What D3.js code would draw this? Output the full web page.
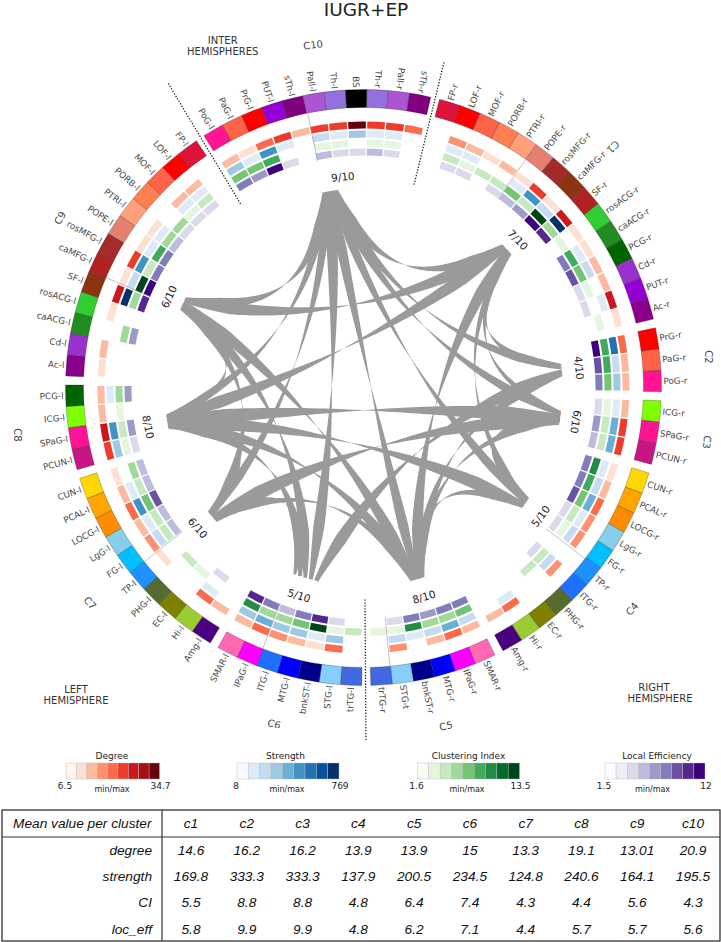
<!DOCTYPE html>
<html><head><meta charset="utf-8">
<script src="https://cdn.jsdelivr.net/npm/d3@7/dist/d3.min.js"></script>
<style>html,body{margin:0;padding:0;background:#fff}svg{display:block}text{font-family:"DejaVu Sans",sans-serif}</style>
</head><body><svg id="c" width="721" height="942"></svg>
<script>
const _ = null;
const clusterNames = ["C1","C2","C3","C4","C5","C6","C7","C8","C9","C10"];
const nodeLabels = [
 ["FP-r","LOF-r","MOF-r","PORB-r","PTRI-r","POPE-r","rosMFG-r","caMFG-r","SF-r","rosACG-r","caACG-r","PCG-r","Cd-r","PUT-r","Ac-r"],
 ["PrG-r","PaG-r","PoG-r"],
 ["ICG-r","SPaG-r","PCUN-r"],
 ["CUN-r","PCAL-r","LOCG-r","LgG-r","FG-r","TP-r","ITG-r","PHG-r","EC-r","Hi-r","Amg-r"],
 ["SMAR-r","IPaG-r","MTG-r","bnkST-r","STG-t","trTG-r"],
 ["trTG-l","STG-l","bnkST-l","MTG-l","ITG-l","IPaG-l","SMAR-l"],
 ["Amg-l","Hi-l","EC-l","PHG-l","TP-l","FG-l","LgG-l","LOCG-l","PCAL-l","CUN-l"],
 ["PCUN-l","SPaG-l","ICG-l","PCG-l"],
 ["Ac-l","Cd-l","caACG-l","rosACG-l","SF-l","caMFG-l","rosMFG-l","POPE-l","PTRI-l","PORB-l","MOF-l","LOF-l","FP-l"],
 ["PoG-l","PaG-l","PrG-l","PUT-l","sTh-l","Pall-l","Th-l","BS","Th-r","Pall-r","sTh-r"]
];
const nodeColors = [
 ["#dc143c","#ff0000","#ff6347","#ff7f50","#ffa07a","#e57f6f","#a52a2a","#8b3410","#b22222","#32cd32","#228b22","#006400","#9932cc","#9400d3","#8b008b"],
 ["#ff0000","#ff6347","#ff1493"],
 ["#7fff00","#ff1493","#c71585"],
 ["#ffd700","#ffa500","#ff8c00","#87ceeb","#00bfff","#1e90ff","#2070ff","#556b2f","#808000","#9acd32","#4b0082"],
 ["#ff69b4","#ff00ff","#0000ff","#00008b","#87cefa","#4169e1"],
 ["#4169e1","#87cefa","#00008b","#0000ff","#2070ff","#ff00ff","#ff69b4"],
 ["#4b0082","#9acd32","#808000","#556b2f","#1e90ff","#00bfff","#87ceeb","#ff8c00","#ffa500","#ffd700"],
 ["#c71585","#ff1493","#7fff00","#006400"],
 ["#8b008b","#9932cc","#228b22","#32cd32","#8b3410","#b22222","#a52a2a","#e57f6f","#ffa07a","#ff7f50","#ff6347","#ff0000","#dc143c"],
 ["#ff1493","#ff6347","#ff0000","#9400d3","#800080","#ab55d3","#9370db","#000000","#9370db","#ab55d3","#800080"]
];
const degree = [
 [_,17,14,11,14,11,24,11,27,11,11,14,14,27,11],[21,14,14],[14,24,24],
 [11,14,21,17,17,_,17,_,_,21,14],[14,21,14,_,17,_],[_,21,11,14,17,21,14],
 [14,21,_,_,11,17,14,21,14,11],[24,27,14,14],[11,14,_,11,27,11,24,11,11,_,14,14,_],
 [14,11,21,24,14,24,24,33,24,24,21]];
const strength = [
 [_,135,135,_,_,135,470,220,725,_,135,220,_,135,_],[555,220,305],[135,390,390],
 [135,220,390,135,220,_,220,_,_,135,_],[220,390,220,135,220,_],[_,305,135,305,305,390,305],
 [_,135,_,_,_,220,135,470,135,_],[305,470,_,135],[_,_,_,_,725,220,470,135,135,_,135,135,_],
 [305,135,470,135,_,220,135,305,135,135,_]];
const clustering = [
 [_,4.9,3.6,4.9,4.9,7.6,4.9,12.8,6.2,3.6,8.9,7.6,3.6,_,3.6],[8.9,8.9,7.6],[3.6,4.9,4.9],
 [10.2,8.9,7.6,4.9,3.6,_,4.9,4.9,_,_,_],[7.6,6.2,6.2,10.2,3.6,3.6],[4.9,3.6,12.8,7.6,6.2,6.2,10.2],
 [_,_,3.6,4.9,_,4.9,4.9,7.6,4.9,6.2],[3.6,4.9,3.6,6.2],[_,_,6.2,_,6.2,12.8,4.9,8.9,6.2,6.2,3.6,4.9,_],
 [7.6,7.6,8.9,_,_,3.6,3.6,_,3.6,3.6,_]];
const localEff = [
 [_,4.4,4.4,_,4.4,5.6,6.8,11.4,10.3,_,7.9,9.1,4.4,4.4,_],[11.4,9.1,7.9],[4.4,6.8,5.6],
 [7.9,7.9,9.1,4.4,4.4,_,4.4,_,_,_,_],[7.9,7.9,6.8,7.9,4.4,_],[_,4.4,10.3,7.9,5.6,7.9,10.3],
 [_,4.4,_,_,_,5.6,5.6,9.1,5.6,5.6],[4.4,6.8,_,6.8],[_,_,6.8,_,10.3,11.4,7.9,7.9,5.6,4.4,4.4,4.4,_],
 [7.9,6.8,11.4,4.4,_,5.6,4.4,4.4,5.6,4.4,_]];
const metricNames = ["Degree","Strength","Clustering Index","Local Efficiency"];
const metricMin = [6.5,8,1.6,1.5];
const metricMax = [34.7,769,13.5,12];
const metricTickMax = ["34.7","769","13.5","12"];
const metricColors = [
 ["#fff5f0","#fee0d2","#fcbba1","#fc9272","#fb6a4a","#ef3b2c","#cb181d","#a50f15","#67000d"],
 ["#f7fbff","#deebf7","#c6dbef","#9ecae1","#6baed6","#4292c6","#2171b5","#08519c","#08306b"],
 ["#f7fcf5","#e5f5e0","#c7e9c0","#a1d99b","#74c476","#41ab5d","#238b45","#006d2c","#00441b"],
 ["#fcfbfd","#efedf5","#dadaeb","#bcbddc","#9e9ac8","#807dba","#6a51a3","#54278f","#3f007d"]];

const sectorNames = ["A","B","C","D","E","F","G","H","I","J"];
const sectorLabels = ["9/10","7/10","4/10","6/10","5/10","8/10","5/10","6/10","8/10","6/10"];
const sectorAngles = [-9.6,46.1,84.9,98.8,125.5,164.3,-163,-130.5,-99.9,-65.1];
const sectorLabelAngles = [-5.6,46.3,84.8,99.2,126,163.9,-162.8,-130.3,-100.4,-65];
const sectorLabelRadii = [211.5,213.6,216.4,215,219,218,218,217.3,219,214.5];
const sectorSpans = [14.5,13.6,14,15,13,14.8,29,13.7,14.8,13.6];
const links = [
 ["A","J",11],["A","B",10],["A","C",8.5],["A","D",9.5],["A","E",9.5],["A","F",11],["A","G",12],["A","H",8.5],["A","I",8.5],
 ["B","J",13],["B","I",13],["B","C",7.5],["B","D",6],["B","E",6],["B","F",12],
 ["C","G",13],["C","F",9.5],
 ["D","I",15],["D","H",15],["D","F",7.5],["D","E",7.5],
 ["E","I",14],["E","F",7.5],
 ["F","J",12],["F","I",12],["F","H",7],
 ["G","I",11],["G","H",8.5],["G","J",11],
 ["H","I",8.5],["H","J",8.5],["I","J",8.5]];
const tableHeader = ["Mean value per cluster","c1","c2","c3","c4","c5","c6","c7","c8","c9","c10"];
const tableRows = [
 ["degree","14.6","16.2","16.2","13.9","13.9","15","13.3","19.1","13.01","20.9"],
 ["strength","169.8","333.3","333.3","137.9","200.5","234.5","124.8","240.6","164.1","195.5"],
 ["CI","5.5","8.8","8.8","4.8","6.4","7.4","4.3","4.4","5.6","4.3"],
 ["loc_eff","5.8","9.9","9.9","4.8","6.2","7.1","4.4","5.7","5.7","5.6"]];

const svg = d3.select("#c");
const cx = 363.5, cy = 387.5;
const rad = d => d*Math.PI/180;
const polar = (a,r) => [cx + r*Math.sin(rad(a)), cy - r*Math.cos(rad(a))];
const root = svg.append("g").attr("transform",`translate(${cx},${cy})`);

/* ring layout */
const nodeStep = 4.13, clusterGap = 1.72, startAngle = 14.78;
const nodes = []; let cursor = startAngle;
nodeLabels.forEach((lab,c)=>{
  lab.forEach((name,i)=>{
    nodes.push({name,c,i,a0:cursor,a1:cursor+nodeStep,color:nodeColors[c][i],
      vals:[degree[c][i],strength[c][i],clustering[c][i],localEff[c][i]]});
    cursor += nodeStep;
  });
  cursor += clusterGap;
});
const arc = d3.arc();
root.selectAll("path.node").data(nodes).join("path").attr("class","node")
  .attr("d",d=>arc({innerRadius:280,outerRadius:298,startAngle:rad(d.a0),endAngle:rad(d.a1)}))
  .attr("fill",d=>d.color).attr("stroke","#222").attr("stroke-opacity",.55).attr("stroke-width",.5);

/* heat rings */
const ringRadii = [[259,266],[250,257],[241,248],[232,239]];
metricNames.forEach((m,k)=>{
  const col = d3.scaleQuantize().domain([metricMin[k],metricMax[k]]).range(metricColors[k]);
  root.selectAll("path.m"+k).data(nodes.filter(d=>d.vals[k]!==null)).join("path")
    .attr("d",d=>arc({innerRadius:ringRadii[k][0],outerRadius:ringRadii[k][1],
       startAngle:rad(d.a0+.15),endAngle:rad(d.a1-.15)}))
    .attr("fill",d=>col(d.vals[k]));
});

/* node labels */
root.selectAll("text.nl").data(nodes).join("text").attr("class","nl")
  .attr("transform",d=>{
    const a=(d.a0+d.a1)/2, na=((a%360)+360)%360;
    const [x,y]=[300*Math.sin(rad(a)),-300*Math.cos(rad(a))];
    d.flip = na>180 || d.c===9;
    return `translate(${x},${y}) rotate(${d.flip? na+90 : na-90})`;
  })
  .attr("text-anchor",d=>d.flip?"end":"start")
  .attr("dy","0.35em").attr("font-size",8.8).attr("fill","#4a4a4a").text(d=>d.name);

/* thin dividers */
const dividerAngles = [-11.5,35.45,127.7,174.6,-158.9,-128.5,-66.9];
dividerAngles.forEach(a=>{
  const p=polar(a,231),q=polar(a,280);
  svg.append("line").attr("x1",p[0]).attr("y1",p[1]).attr("x2",q[0]).attr("y2",q[1])
    .attr("stroke","#999").attr("stroke-width",.6);
});

/* ribbons */
const sectorIdx = Object.fromEntries(sectorNames.map((s,i)=>[s,i]));
const edges = links.map(([s,t,w])=>({s:sectorIdx[s],t:sectorIdx[t],w}));
const partners = sectorNames.map((_n,i)=>{
  const list = edges.filter(e=>e.s===i||e.t===i).map(e=>e.s===i?e.t:e.s);
  return list.sort((p,q)=>((sectorAngles[p]-sectorAngles[i]+720)%360)-((sectorAngles[q]-sectorAngles[i]+720)%360));
});
function endPoint(i,j){
  const list=partners[i], k=list.indexOf(j), n=list.length, S=sectorSpans[i];
  const off=(S/2-0.5)*(1-2*(k+.5)/n);
  const a=sectorAngles[i]+off/199*180/Math.PI;
  return [199*Math.sin(rad(a)),-199*Math.cos(rad(a))];
}
const ribbonLine = d3.line();
const ts = d3.range(0,1.0001,1/80);
const ribbons = edges.map(e=>{
  const P0=endPoint(e.s,e.t), P2=endPoint(e.t,e.s);
  const C=[.45*(P0[0]+P2[0])/2,.45*(P0[1]+P2[1])/2];
  const up=[],dn=[];
  ts.forEach(t=>{
    const u=1-t;
    const x=u*u*P0[0]+2*u*t*C[0]+t*t*P2[0], y=u*u*P0[1]+2*u*t*C[1]+t*t*P2[1];
    let dx=2*u*(C[0]-P0[0])+2*t*(P2[0]-C[0]), dy=2*u*(C[1]-P0[1])+2*t*(P2[1]-C[1]);
    const L=Math.hypot(dx,dy)||1; dx/=L; dy/=L;
    const edge=Math.min(t,1-t);
    const ramp=Math.min(1,.3+.7*edge/.14);
    const h=e.w/2*Math.abs(Math.cos(Math.PI*t))*ramp+.12;
    up.push([x-dy*h,y+dx*h]); dn.push([x+dy*h,y-dx*h]);
  });
  return up.concat(dn.reverse());
});
root.selectAll("path.rib").data(ribbons).join("path").attr("class","rib")
  .attr("d",d=>ribbonLine(d)+"Z").attr("fill","#9a9a9a");

/* sector labels */
sectorLabels.forEach((t,i)=>{
  const a=sectorLabelAngles[i]; const [x,y]=polar(a,sectorLabelRadii[i]);
  const rot = (a>-90&&a<=100)? a : (a>100? a-180 : a+180);
  svg.append("text").attr("transform",`translate(${x},${y}) rotate(${rot})`)
    .attr("text-anchor","middle").attr("dy",".35em").attr("font-size",10.5).attr("fill","#222").text(t);
});

/* hemisphere dotted lines */
const dotted = [[-33.8,221,-32.7,363],[14,209,13.9,336],[179.6,212,179.6,354]];
dotted.forEach(([a1,r1,a2,r2])=>{
  const p=polar(a1,r1),q=polar(a2,r2);
  svg.append("line").attr("x1",p[0]).attr("y1",p[1]).attr("x2",q[0]).attr("y2",q[1])
    .attr("stroke","#111").attr("stroke-width",1.2).attr("stroke-dasharray","1.3 1.6");
});

/* cluster names */
const clusterPos = [[613,147,133],[708,357,90],[707,442,97],[632,609,-48],[446,726,-14],[274,724,15],[90,603,48],[17,435,90],[60,218,-60],[313,45,-8]];
clusterNames.forEach((n,i)=>{
  svg.append("text").attr("transform",`translate(${clusterPos[i][0]},${clusterPos[i][1]}) rotate(${clusterPos[i][2]})`)
   .attr("text-anchor","middle").attr("dy",".35em").attr("font-size",10).attr("fill","#444").text(n);
});
svg.append("rect").attr("x",262).attr("y",728).attr("width",26).attr("height",7).attr("fill","#fff");

/* hemisphere text */
const hemi=[["INTER",222.7,40],["HEMISPHERES",222.7,51],["LEFT",76,689],["HEMISPHERE",76,700],["RIGHT",654,687],["HEMISPHERE",660,698]];
hemi.forEach(([t,x,y])=>svg.append("text").attr("x",x).attr("y",y).attr("text-anchor","middle").attr("dy",".35em")
  .attr("font-size",10).attr("fill","#333").text(t));

/* title */
svg.append("text").attr("x",366).attr("y",16).attr("text-anchor","middle").attr("font-size",18.5).attr("fill","#222").text("IUGR+EP");

/* legends */
const legendX=[[66,159.5],[237,339],[417.5,519.5],[605,705]];
const legendT=[112,285.4,468.5,657];
const legendM=[112,287,467,652.5];
metricNames.forEach((m,k)=>{
  const [x0,x1]=legendX[k];
  const sx=d3.scaleBand().domain(d3.range(9)).range([x0,x1]);
  svg.append("g").selectAll("rect").data(metricColors[k]).join("rect")
    .attr("x",(d,i)=>sx(i)).attr("y",763).attr("width",sx.bandwidth()).attr("height",16)
    .attr("fill",d=>d).attr("stroke","#bbb").attr("stroke-width",.4);
  svg.append("text").attr("x",legendT[k]).attr("y",756).attr("text-anchor","middle").attr("dy",".35em").attr("font-size",9).attr("fill","#222").text(m);
  svg.append("text").attr("x",x0-1).attr("y",786).attr("text-anchor","middle").attr("dy",".35em").attr("font-size",9).attr("fill","#222").text(metricMin[k]);
  svg.append("text").attr("x",x1+1).attr("y",786).attr("text-anchor","middle").attr("dy",".35em").attr("font-size",9).attr("fill","#222").text(metricTickMax[k]);
  svg.append("text").attr("x",legendM[k]).attr("y",789).attr("text-anchor","middle").attr("dy",".35em").attr("font-size",8).attr("fill","#222").text("min/max");
});

/* table */
const T={x0:2,x1:720,y0:810,y1:941,yh:837,xv:162};
svg.append("rect").attr("x",T.x0).attr("y",T.y0).attr("width",T.x1-T.x0).attr("height",T.y1-T.y0)
  .attr("fill","none").attr("stroke","#333").attr("stroke-width",1.3);
svg.append("line").attr("x1",T.x0).attr("x2",T.x1).attr("y1",T.yh).attr("y2",T.yh).attr("stroke","#333").attr("stroke-width",1.2);
svg.append("line").attr("x1",T.xv).attr("x2",T.xv).attr("y1",T.y0).attr("y2",T.y1).attr("stroke","#333").attr("stroke-width",1.2);
const colX=d3.scalePoint().domain(tableHeader.slice(1)).range([191,693]);
const rowY=d3.scalePoint().domain(tableRows.map(r=>r[0])).range([850,929]);
const tstyle=s=>s.attr("font-style","italic").attr("font-size",13.7).attr("fill","#111").attr("dy",".35em").style("font-family","'Liberation Sans',Arial,sans-serif");
svg.append("text").attr("x",13).attr("y",823).call(tstyle).text(tableHeader[0]);
tableHeader.slice(1).forEach(h=>svg.append("text").attr("x",colX(h)).attr("y",823).attr("text-anchor","middle").call(tstyle).text(h));
tableRows.forEach(r=>{
  svg.append("text").attr("x",152).attr("y",rowY(r[0])).attr("text-anchor","end").call(tstyle).text(r[0]);
  r.slice(1).forEach((v,i)=>svg.append("text").attr("x",colX(tableHeader[i+1])).attr("y",rowY(r[0])).attr("text-anchor","middle").call(tstyle).text(v));
});
</script></body></html>
